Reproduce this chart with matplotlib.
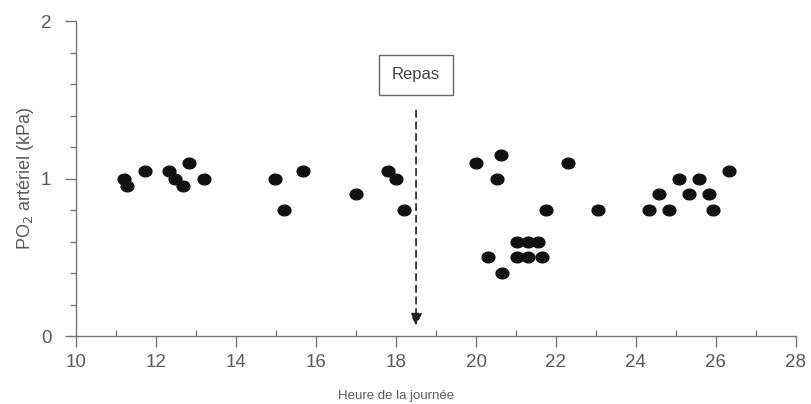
import numpy as np
import matplotlib
matplotlib.use('Agg')
import matplotlib.pyplot as plt
import matplotlib.ticker as ticker
from matplotlib.path import Path

plt.rcParams['font.family'] = ['Liberation Sans', 'DejaVu Sans']

# heure de la journée / PO2 artériel (kPa)
heure = [11.2, 11.28, 11.73, 12.33, 12.48, 12.68, 12.83, 13.2,
         14.98, 15.2, 15.68, 17.0, 17.81, 18.01, 18.21,
         20.01, 20.62, 20.52, 20.29, 20.64,
         21.02, 21.29, 21.54, 21.02, 21.29, 21.64, 21.74,
         22.29, 23.04, 24.32, 24.57, 24.82, 25.07, 25.32,
         25.57, 25.82, 25.92, 26.32]
po2 = [1.0, 0.95, 1.05, 1.05, 1.0, 0.95, 1.1, 1.0,
       1.0, 0.8, 1.05, 0.9, 1.05, 1.0, 0.8,
       1.1, 1.15, 1.0, 0.5, 0.4,
       0.6, 0.6, 0.6, 0.5, 0.5, 0.5, 0.8,
       1.1, 0.8, 0.8, 0.9, 0.8, 1.0, 0.9,
       1.0, 0.9, 0.8, 1.05]

repas_heure = 18.5
gris = '#5a5a5a'

# slightly oval dot
t = np.linspace(0, 2 * np.pi, 60)
ovale = Path(np.column_stack([1.2 * np.cos(t), np.sin(t)]), closed=True)

fig = plt.figure(figsize=(8.12, 4.04), dpi=100)
ax = fig.add_axes([0.094, 0.168, 0.886, 0.78])

ax.scatter(heure, po2, marker=ovale, s=85, color='#111111', zorder=3)

ax.set_xlim(10, 28)
ax.set_ylim(0, 2)
ax.spines['top'].set_visible(False)
ax.spines['right'].set_visible(False)
for s in ('left', 'bottom'):
    ax.spines[s].set_color('#777777')
    ax.spines[s].set_linewidth(1.0)

ax.xaxis.set_major_locator(ticker.MultipleLocator(2))
ax.xaxis.set_minor_locator(ticker.MultipleLocator(1))
ax.yaxis.set_major_locator(ticker.MultipleLocator(1))
ax.yaxis.set_minor_locator(ticker.MultipleLocator(0.2))

ax.tick_params(axis='x', which='major', direction='out', length=8, width=1,
               color='#777777', labelsize=13.5, labelcolor=gris, pad=5)
ax.tick_params(axis='x', which='minor', direction='in', length=4, width=1,
               color='#777777')
ax.tick_params(axis='y', which='major', direction='out', length=8, width=1,
               color='#777777', labelsize=13.5, labelcolor=gris, pad=10)
ax.tick_params(axis='y', which='minor', direction='out', length=4, width=1,
               color='#777777')

ax.set_xlabel('Heure de la journée', fontsize=9.5, color=gris)
ax.xaxis.set_label_coords(0.445, -0.17)
ax.set_ylabel('PO$_2$ artériel (kPa)', fontsize=13, color=gris)
ax.yaxis.set_label_coords(-0.056, 0.5)

# repas: boîte + flèche pointillée
ax.annotate('', xy=(repas_heure, 0.05), xytext=(repas_heure, 1.45),
            arrowprops=dict(arrowstyle='-|>', linestyle=(0, (4, 3)),
                            color='#222222', lw=1.2, mutation_scale=18))
ax.text(repas_heure, 1.66, 'Repas', ha='center', va='center', fontsize=12,
        color='#444444',
        bbox=dict(boxstyle='square,pad=0.75', facecolor='white',
                  edgecolor='#666666', linewidth=1))

fig.savefig('out.png', dpi=100)
